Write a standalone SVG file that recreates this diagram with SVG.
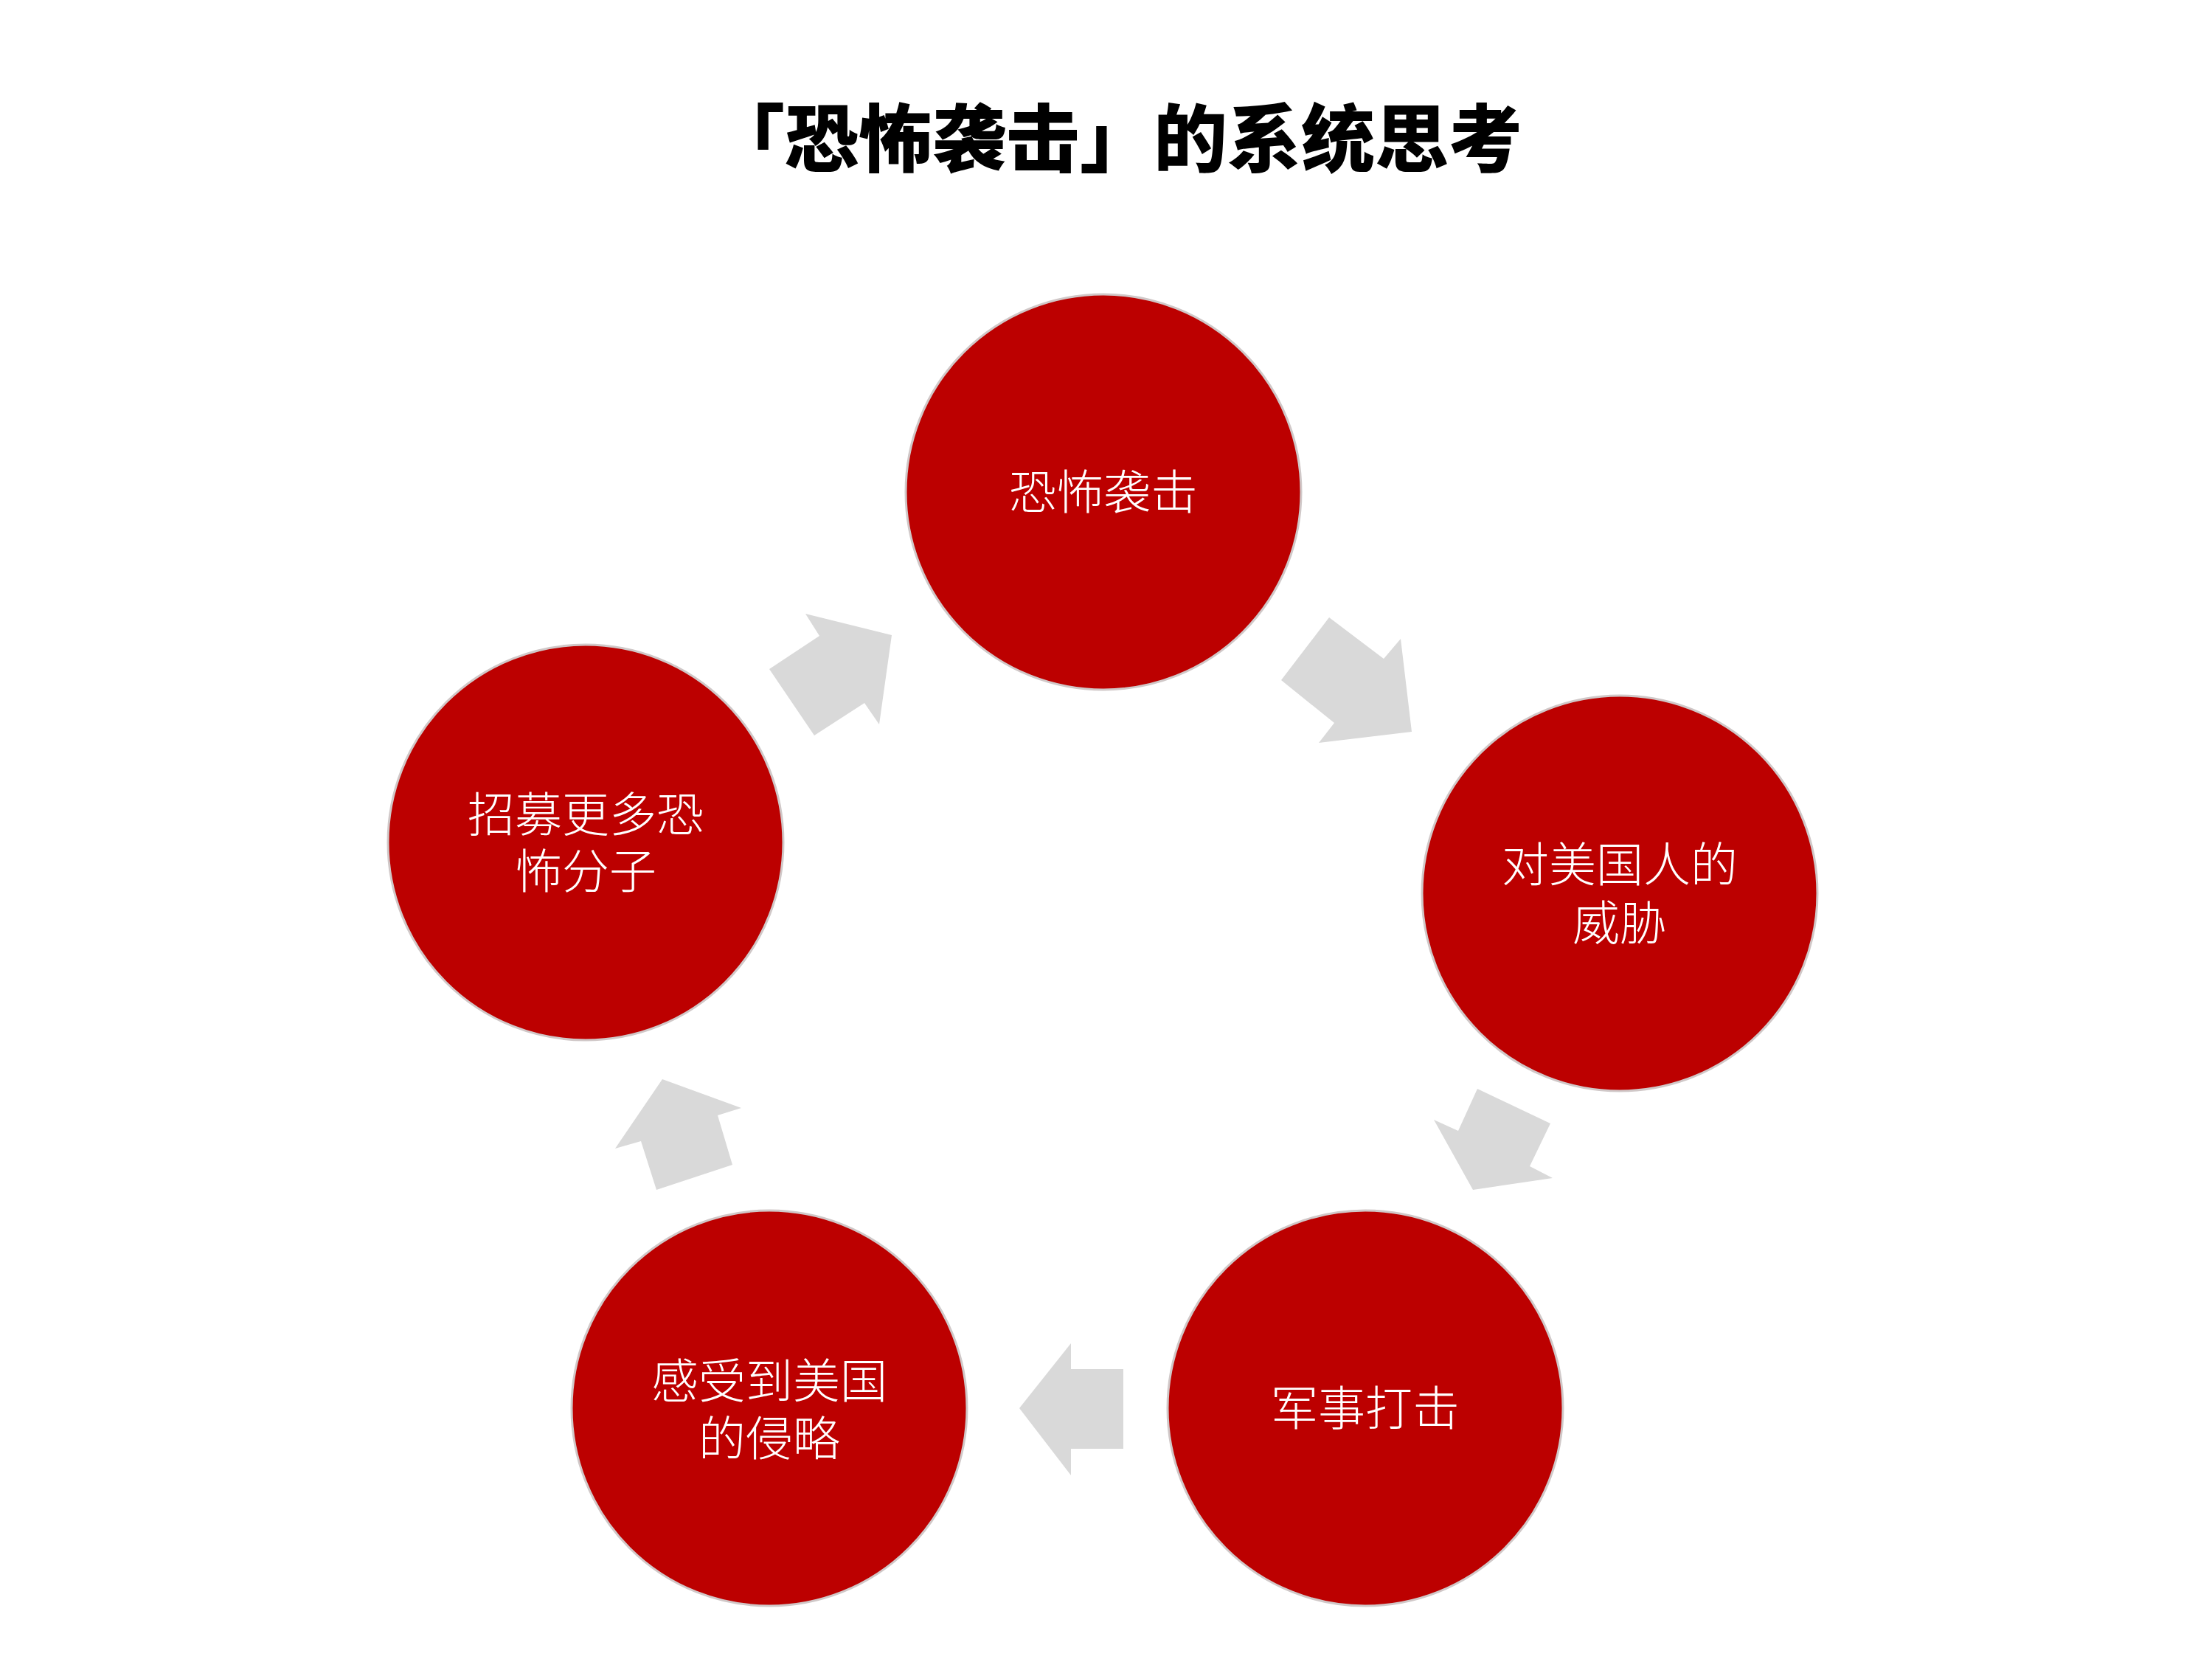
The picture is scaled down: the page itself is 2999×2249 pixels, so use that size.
<svg xmlns="http://www.w3.org/2000/svg" width="2999" height="2249" viewBox="0 0 2999 2249">
<style>
.node circle{fill:#BC0000;stroke:#D0C8C8;stroke-width:3}
.node text{fill:#FFFFFF;font-family:"Noto Sans CJK SC","Noto Sans",sans-serif;font-size:64px;font-weight:300;text-anchor:middle;dominant-baseline:central}
.arrow{fill:#D9D9D9;stroke:none}
.title{fill:#000;font-family:"Noto Sans CJK SC","Noto Sans",sans-serif;font-size:100px;font-weight:900;text-anchor:middle;dominant-baseline:central}
</style>
<rect width="2999" height="2249" fill="#FFFFFF"/>
<text class="title" x="1514" y="181">「恐怖袭击」的系统思考</text>
<g id="connectors">
<polygon class="arrow" points="1043,907 1104,997 1172,953 1192,982 1209,861 1092,832 1111,862"/>
<polygon class="arrow" points="1802,837 1876,893 1899,866 1914,992 1788,1007 1809,980 1737,922"/>
<polygon class="arrow" points="2003,1476 2102,1523 2074,1581 2105,1597 1997,1613 1944,1518 1977,1533"/>
<polygon class="arrow" points="1382,1909 1452,1821 1452,1856 1523,1856 1523,1964 1452,1964 1452,2000"/>
<polygon class="arrow" points="898,1463 1005,1502 973,1512 993,1579 890,1613 869,1547 834,1557"/>
</g>
<g id="node-attack" class="node">
<circle cx="1496" cy="667" r="268"/>
<text x="1496" y="662">恐怖袭击</text>
</g>
<g id="node-threat" class="node">
<circle cx="2196" cy="1211" r="268"/>
<text x="2196" y="1167">对美国人的</text>
<text x="2196" y="1246">威胁</text>
</g>
<g id="node-military" class="node">
<circle cx="1851" cy="1909" r="268"/>
<text x="1851" y="1904">军事打击</text>
</g>
<g id="node-invasion" class="node">
<circle cx="1043" cy="1909" r="268"/>
<text x="1043" y="1867">感受到美国</text>
<text x="1043" y="1945">的侵略</text>
</g>
<g id="node-recruit" class="node">
<circle cx="794" cy="1142" r="268"/>
<text x="794" y="1099">招募更多恐</text>
<text x="794" y="1176">怖分子</text>
</g>
</svg>
